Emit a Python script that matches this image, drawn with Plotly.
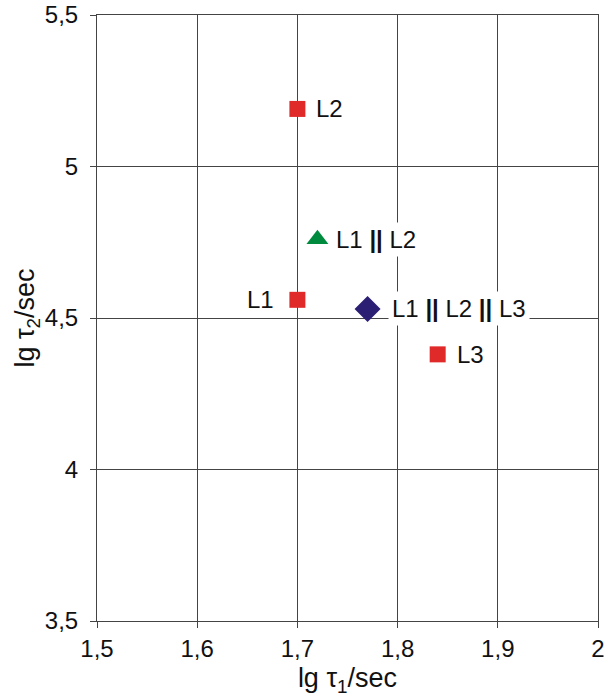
import plotly.graph_objects as go

# Data
names = ["L1", "L2", "L3", "L1 <b>||</b> L2", "L1 <b>||</b> L2 <b>||</b> L3"]
x_vals = [1.70, 1.70, 1.84, 1.72, 1.77]
y_vals = [4.56, 5.19, 4.38, 4.76, 4.53]
symbols = ["square", "square", "square", "triangle-up", "diamond"]
colors = ["#E02A2A", "#E02A2A", "#E02A2A", "#008A3E", "#2B1F74"]
sizes = [16, 16, 16, 19, 20]
label_side = ["left", "right", "right", "right", "right"]
label_gap = [22, 18, 18, 18, 23]
x_ticks = [1.5, 1.6, 1.7, 1.8, 1.9, 2.0]
x_tick_labels = ["1,5", "1,6", "1,7", "1,8", "1,9", "2"]
y_ticks = [3.5, 4.0, 4.5, 5.0, 5.5]
y_tick_labels = ["3,5", "4", "4,5", "5", "5,5"]

FONT = "Liberation Sans, Arial"

fig = go.Figure()
for n, x, y, s, c, sz in zip(names, x_vals, y_vals, symbols, colors, sizes):
    fig.add_trace(go.Scatter(x=[x], y=[y], mode="markers", name=n,
                             marker=dict(symbol=s, color=c, size=sz, line=dict(width=0)),
                             showlegend=False, cliponaxis=False))

for n, x, y, side, g in zip(names, x_vals, y_vals, label_side, label_gap):
    fig.add_annotation(x=x, y=y, text=n, showarrow=False,
                       xanchor="left" if side == "right" else "right",
                       xshift=(g - 3) if side == "right" else -(g - 3),
                       bgcolor="white", borderpad=3,
                       font=dict(family=FONT, size=24, color="#111"))

axis_common = dict(showgrid=True, gridcolor="#444", gridwidth=1,
                   showline=True, linecolor="#444", linewidth=1, mirror=True,
                   ticks="outside", ticklen=6, tickcolor="#444",
                   zeroline=False, automargin=False,
                   ticklabeloverflow="allow",
                   tickfont=dict(family=FONT, size=24, color="#111"))

fig.update_xaxes(range=[1.5, 2.0], tickvals=x_ticks, ticktext=x_tick_labels,
                 title=dict(text="lg τ<sub>1</sub>/sec", standoff=13,
                            font=dict(family=FONT, size=27, color="#111")),
                 **axis_common)
fig.update_yaxes(range=[3.5, 5.5], tickvals=y_ticks, ticktext=y_tick_labels,
                 ticklabelstandoff=7,
                 title=dict(text="lg τ<sub>2</sub>/sec", standoff=2,
                            font=dict(family=FONT, size=27, color="#111")),
                 **axis_common)

fig.update_layout(width=616, height=697,
                  margin=dict(l=97, r=18, t=15, b=76),
                  plot_bgcolor="white", paper_bgcolor="white")

fig.write_html("out.html", config={"displayModeBar": False},
               post_script="document.body.style.margin='0';document.body.style.overflow='hidden';")
